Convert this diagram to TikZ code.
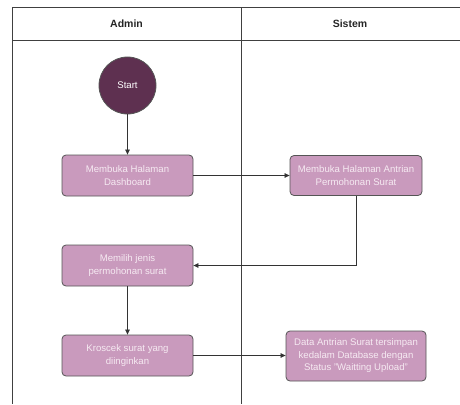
\documentclass[tikz,border=0pt]{standalone}
\usepackage{fontspec}
\setmainfont{Liberation Sans}
\usetikzlibrary{arrows.meta}
\definecolor{plum}{HTML}{5E3050}
\definecolor{mauve}{HTML}{C99ABD}
\definecolor{edge}{HTML}{555555}
\definecolor{txt}{HTML}{F6EAF2}
\begin{document}
\begin{tikzpicture}[x=1pt,y=-1pt,
  lane/.style={draw=black!75,line width=0.8pt},
  actbox/.style={draw=edge,fill=mauve,rounded corners=4pt,line width=0.8pt,
     minimum width=131pt,minimum height=41pt,align=center,text=txt,
     font=\fontsize{9.6}{12.5}\selectfont,inner sep=2pt},
  startnode/.style={circle,draw=edge,fill=plum,minimum size=57pt,text=white,
     font=\fontsize{9.6}{12}\selectfont,line width=0.8pt},
  flow/.style={draw=black!80,line width=0.7pt,-{Triangle[length=5pt,width=4.5pt]}},
  hdr/.style={font=\bfseries\fontsize{10.5}{12}\selectfont,text=black!85}]
\useasboundingbox (0,0) rectangle (460,404);
\fill[white] (0,0) rectangle (460,404);
% swimlane frame
\draw[lane] (460,7.5) -- (12,7.5) -- (12,404);
\draw[lane] (12,40) -- (460,40);
\draw[lane] (241,7.5) -- (241,404);
\node[hdr] (hA) at (126.5,24) {Admin};
\node[hdr] (hS) at (350,24) {Sistem};
% nodes
\node[startnode] (start) at (127.5,85.5) {Start};
\node[actbox] (b1) at (127.5,175.5) {Membuka Halaman\\Dashboard};
\node[actbox,minimum width=132pt,minimum height=40pt] (b2) at (356,175.5) {Membuka Halaman Antrian\\Permohonan Surat};
\node[actbox] (b3) at (127.5,265.5) {Memilih jenis\\permohonan surat};
\node[actbox] (b4) at (127.5,355.5) {Kroscek surat yang\\diinginkan};
\node[actbox,minimum width=140pt,minimum height=50pt] (b5) at (356,356) {Data Antrian Surat tersimpan\\kedalam Database dengan\\Status "Waitting Upload"};
% connectors
\draw[flow] (start) -- (b1);
\draw[flow] (b1.east) -- (b2.west);
\draw[flow] (b2.south) |- (b3.east);
\draw[flow] (b3) -- (b4);
\draw[flow] (b4.east) -- (b5.west |- b4.east);
\end{tikzpicture}
\end{document}
